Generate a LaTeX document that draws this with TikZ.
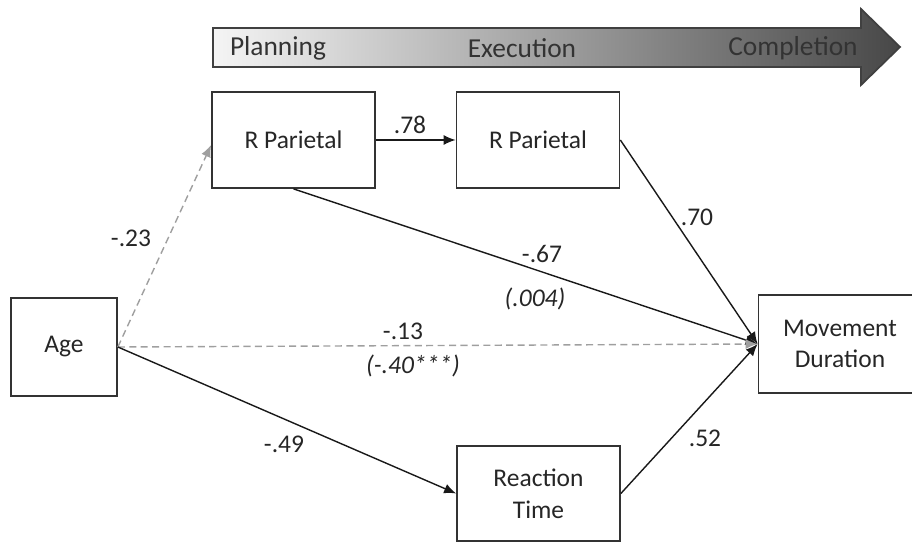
\documentclass[tikz,border=0pt]{standalone}
\usepackage{fontspec}
\setmainfont{Carlito}
\usetikzlibrary{arrows.meta}

\begin{document}
\begin{tikzpicture}[x=0.02cm,y=-0.02cm,line width=0.8pt,>={Latex[length=2.4mm,width=2mm]},
    box/.style={draw=black!80,line width=1pt,minimum width=3.26cm,minimum height=1.92cm,align=center,text=black!85,font=\fontsize{14.5}{18}\selectfont},
    lab/.style={text=black!85,font=\fontsize{14.5}{18}\selectfont},
    phase/.style={text=black!80,font=\fontsize{15.6}{18}\selectfont},
    link/.style={->,draw=black!90},
    weaklink/.style={->,draw=gray!75,dash pattern=on 4pt off 2.5pt}]
    \useasboundingbox (0,0) rectangle (912,543);
    % phase banner
    \draw[draw=black!75,line width=1pt,left color=black!4,right color=black!72]
        (213,28) -- (861,28) -- (861,9) -- (900,47) -- (861,85) -- (861,67) -- (213,67) -- cycle;
    \node[phase] (plan) at (278,48) {Planning};
    \node[phase] (exec) at (522,48) {Execution};
    \node[phase] (comp) at (793,48) {Completion};
    % boxes
    \node[box] (rp1) at (293.5,140) {R Parietal};
    \node[box] (rp2) at (538,140) {R Parietal};
    \node[box,minimum width=2.12cm,minimum height=1.96cm] (age) at (64,347) {Age};
    \node[box,minimum height=1.96cm] (md) at (840,344) {Movement\\Duration};
    \node[box,minimum height=1.9cm] (rt) at (538.5,493.5) {Reaction\\Time};
    % paths
    \draw[weaklink] (age.east) -- ([yshift=-0.1cm]rp1.west);
    \draw[link] (rp1.east) -- (rp2.west);
    \draw[link] (rp2.east) -- (md.west);
    \draw[link] (rp1.south) -- (md.west);
    \draw[weaklink] (age.east) -- (md.west);
    \draw[link] (age.east) -- (rt.west);
    \draw[link] (rt.east) -- (md.west);
    % coefficients
    \node[lab] (c1) at (131,238) {-.23};
    \node[lab] (c2) at (410,125) {.78};
    \node[lab] (c3) at (697,217) {.70};
    \node[lab] (c4) at (542,254) {-.67};
    \node[lab,font=\fontsize{14.5}{18}\selectfont\itshape] (c4b) at (535,299) {(.004)};
    \node[lab] (c5) at (403,331) {-.13};
    \node[lab,font=\fontsize{14.5}{18}\selectfont\itshape] (c5b) at (413,366) {(-.40***)};
    \node[lab] (c6) at (284,444) {-.49};
    \node[lab] (c7) at (705,438) {.52};
\end{tikzpicture}
\end{document}
